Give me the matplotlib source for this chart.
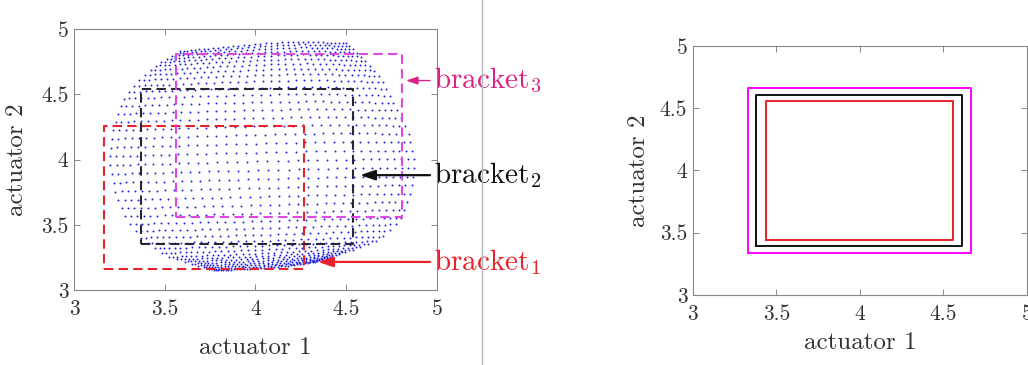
import numpy as np
import matplotlib
matplotlib.use('Agg')
import matplotlib.pyplot as plt
from matplotlib.lines import Line2D

plt.rcParams['font.family'] = ['cmr10', 'DejaVu Serif']
plt.rcParams['mathtext.fontset'] = 'cm'
plt.rcParams['axes.formatter.use_mathtext'] = True

# outline of the reachable workspace
left_edge_x = [3.77, 3.51, 3.38, 3.29, 3.23, 3.195, 3.22, 3.27, 3.36, 3.46, 3.585]
left_edge_y = [3.15, 3.26, 3.38, 3.54, 3.74, 4.00, 4.25, 4.46, 4.61, 4.73, 4.83]
top_edge_x = [3.585, 3.70, 3.88, 4.06, 4.25, 4.50]
top_edge_y = [4.83, 4.845, 4.87, 4.89, 4.905, 4.89]
right_edge_x = [4.34, 4.54, 4.69, 4.80, 4.85, 4.88, 4.84, 4.76, 4.69, 4.58, 4.50]
right_edge_y = [3.22, 3.31, 3.39, 3.54, 3.72, 3.97, 4.22, 4.43, 4.63, 4.79, 4.89]
bottom_edge_x = [3.77, 3.92, 4.06, 4.20, 4.34]
bottom_edge_y = [3.15, 3.16, 3.17, 3.19, 3.22]
n_cols, n_rows = 36, 40

# brackets: [x0, x1, y0, y1]
brackets_left = {
    'bracket1': [3.165, 4.27, 3.16, 4.26],
    'bracket2': [3.37, 4.54, 3.35, 4.54],
    'bracket3': [3.56, 4.81, 3.56, 4.81],
}
brackets_right = {
    'bracket1': [3.44, 4.56, 3.44, 4.56],
    'bracket2': [3.38, 4.61, 3.39, 4.61],
    'bracket3': [3.33, 4.665, 3.34, 4.665],
}
arrow_heads = {'bracket1': (4.344, 3.215), 'bracket2': (4.576, 3.88), 'bracket3': (4.83, 4.605)}
labels = {'bracket1': r'$\mathrm{bracket}_1$', 'bracket2': r'$\mathrm{bracket}_2$',
          'bracket3': r'$\mathrm{bracket}_3$'}

red = '#e8222a'
dash_colors = {'bracket1': red, 'bracket2': '#262636', 'bracket3': '#e048e0'}
solid_colors = {'bracket1': red, 'bracket2': '#111111', 'bracket3': '#ff00ff'}
text_colors = {'bracket1': red, 'bracket2': '#111111', 'bracket3': '#d82488'}


def edge(xs, ys, t):
    xs, ys = np.asarray(xs), np.asarray(ys)
    d = np.r_[0, np.cumsum(np.hypot(np.diff(xs), np.diff(ys)))]
    d /= d[-1]
    return np.interp(t, d, xs), np.interp(t, d, ys)


# grid spanned between the four outline curves
s = np.linspace(0, 1, n_cols)
u = 0.7 * s + 0.3 * (0.5 - 0.5 * np.cos(np.pi * s))
s = np.linspace(0, 1, n_rows)
v = 0.5 * s + 0.5 * (0.5 - 0.5 * np.cos(np.pi * s))
U, V = np.meshgrid(u, v)
bx, by = edge(bottom_edge_x, bottom_edge_y, U)
tx, ty = edge(top_edge_x, top_edge_y, U)
lx, ly = edge(left_edge_x, left_edge_y, V)
rx, ry = edge(right_edge_x, right_edge_y, V)
c00 = np.array([bottom_edge_x[0], bottom_edge_y[0]])
c10 = np.array([bottom_edge_x[-1], bottom_edge_y[-1]])
c01 = np.array([top_edge_x[0], top_edge_y[0]])
c11 = np.array([top_edge_x[-1], top_edge_y[-1]])
X = ((1 - V) * bx + V * tx + (1 - U) * lx + U * rx
     - ((1 - U) * (1 - V) * c00[0] + U * (1 - V) * c10[0] + (1 - U) * V * c01[0] + U * V * c11[0]))
Y = ((1 - V) * by + V * ty + (1 - U) * ly + U * ry
     - ((1 - U) * (1 - V) * c00[1] + U * (1 - V) * c10[1] + (1 - U) * V * c01[1] + U * V * c11[1]))

fig = plt.figure(figsize=(10.28, 3.65), dpi=100)
ax1 = fig.add_axes([0.072, 0.2055, 0.353, 0.715])
ax2 = fig.add_axes([0.674, 0.192, 0.325, 0.682])


def rect(ax, b, **kw):
    x0, x1, y0, y1 = b
    ax.plot([x0, x1, x1, x0, x0], [y0, y0, y1, y1, y0], **kw)


ax1.plot(X.ravel(), Y.ravel(), '.', color='#2020e0', ms=2.8, mew=0)
for k, b in brackets_left.items():
    rect(ax1, b, color=dash_colors[k], lw=1.5, ls=(0, (4.5, 2.5)))
for k, b in brackets_right.items():
    rect(ax2, b, color=solid_colors[k], lw=1.4)

for k, (hx, hy) in arrow_heads.items():
    small = k == 'bracket3'
    ax1.annotate(labels[k], xy=(hx, hy), xytext=(4.985, hy), ha='left', va='center',
                 fontsize=21, color=text_colors[k], annotation_clip=False,
                 arrowprops=dict(arrowstyle='-|>,head_length=0.45,head_width=0.15' if not small
                                 else '-|>,head_length=0.35,head_width=0.12',
                                 color=text_colors[k], lw=1.0 if small else 1.6,
                                 mutation_scale=20, shrinkA=1, shrinkB=0, relpos=(0, 0.5)))

for ax, xl, yl in [(ax1, -0.18, -0.127), (ax2, -0.149, -0.128)]:
    ax.set_xlim(3, 5)
    ax.set_ylim(3, 5)
    ax.set_xticks([3, 3.5, 4, 4.5, 5])
    ax.set_yticks([3, 3.5, 4, 4.5, 5])
    ax.set_xticklabels(['3', '3.5', '4', '4.5', '5'])
    ax.set_yticklabels(['3', '3.5', '4', '4.5', '5'])
    ax.tick_params(direction='in', top=True, right=True, length=4, width=0.7,
                   colors='#888888', labelcolor='#333333', labelsize=15.5)
    ax.tick_params(axis='x', pad=7)
    ax.tick_params(axis='y', pad=4)
    for sp in ax.spines.values():
        sp.set_color('#888888')
        sp.set_linewidth(0.8)
    ax.set_xlabel('actuator 1', fontsize=18, color='#333333')
    ax.set_ylabel('actuator 2', fontsize=18, color='#333333')
    ax.xaxis.set_label_coords(0.5, xl)
    ax.yaxis.set_label_coords(yl, 0.5)

fig.add_artist(Line2D([0.4686, 0.4686], [0, 1], transform=fig.transFigure,
                      color='#b8b8b8', lw=1.0))

fig.savefig('out.png', dpi=100)
